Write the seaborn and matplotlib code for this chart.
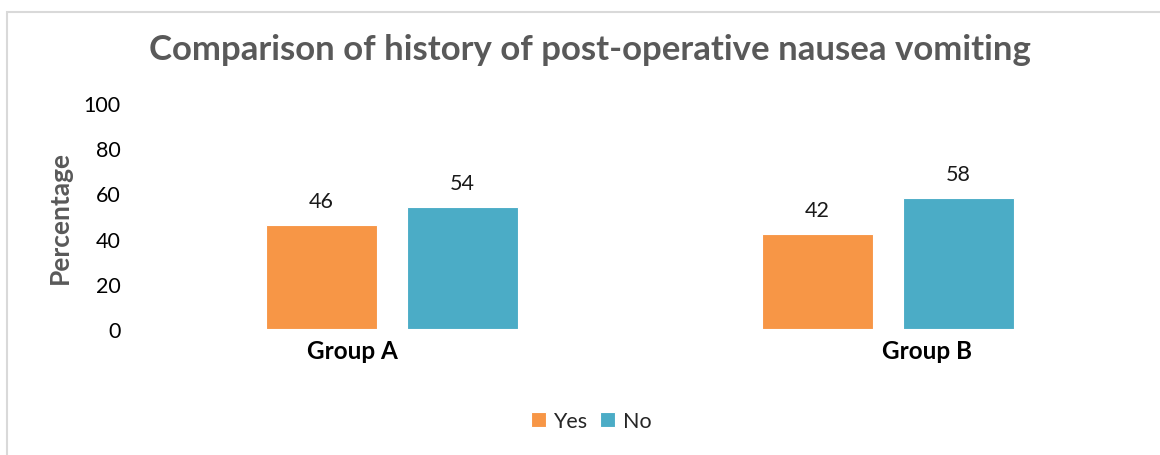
import matplotlib
matplotlib.use("Agg")
import matplotlib.pyplot as plt
import matplotlib.transforms as mtransforms
import seaborn as sns
import pandas as pd
from matplotlib.patches import Rectangle

# Data
groups = ["Group A", "Group B"]
answers = ["Yes", "No"]
yes_pct = [46, 42]
no_pct = [54, 58]

df = pd.DataFrame({
    "Group": groups * 2,
    "Answer": ["Yes"] * len(groups) + ["No"] * len(groups),
    "Percentage": yes_pct + no_pct,
})

sns.set_theme(style="white")
plt.rcParams["font.family"] = ["Lato", "DejaVu Sans"]

fig = plt.figure(figsize=(11.6, 4.56), dpi=100)
ax = fig.add_axes([144 / 1160, 1 - 330 / 456, 992 / 1160, 226 / 456])

# light grey chart-area border
fig.patches.append(Rectangle((7 / 1160, -0.05), 1.1, 1 - 13 / 456 + 0.05,
                             transform=fig.transFigure, fill=False,
                             edgecolor="#d9d9d9", linewidth=1.5, zorder=0))

palette = {"Yes": "#F79646", "No": "#4BACC6"}
sns.barplot(data=df, x="Group", y="Percentage", hue="Answer", order=groups,
            hue_order=answers, palette=palette, width=0.568, gap=0.213,
            saturation=1, edgecolor="white", linewidth=0.8, legend=True, ax=ax)

for cont in ax.containers:
    ax.bar_label(cont, fmt="%d", padding=10, fontsize=15.5, color="#1a1a1a")

ax.set_xlim(-0.5, 1.5)
ax.set_ylim(0, 100)
ax.set_yticks(range(0, 101, 20))
ax.tick_params(axis="y", labelsize=15.5, labelcolor="#000000", pad=17, length=0)
ax.tick_params(axis="x", labelsize=17.5, labelcolor="#000000", pad=7, length=0)

# category labels sit a little outward from their bar pairs
shifts = [-40, 39]
for lab, dx in zip(ax.get_xticklabels(), shifts):
    lab.set_fontweight("bold")
    lab.set_transform(lab.get_transform() +
                      mtransforms.ScaledTranslation(dx / 100, 0, fig.dpi_scale_trans))
ax.set_xlabel("")
ax.set_ylabel("Percentage", fontsize=19, fontweight="bold", color="#595959", labelpad=8)
for s in ax.spines.values():
    s.set_visible(False)
ax.grid(False)

fig.text(590 / 1160, 1 - 50 / 456, "Comparison of history of post-operative nausea vomiting",
         ha="center", va="center", fontsize=25, fontweight="bold", color="#595959")

handles, labels = ax.get_legend_handles_labels()
ax.legend_.remove()
fig.legend(handles, labels, loc="center", bbox_to_anchor=(591 / 1160, 1 - 422 / 456),
           ncol=2, frameon=False, fontsize=15.5, handlelength=0.7, handleheight=0.7,
           handletextpad=0.35, columnspacing=0.6)

fig.savefig("out.png", dpi=100)
